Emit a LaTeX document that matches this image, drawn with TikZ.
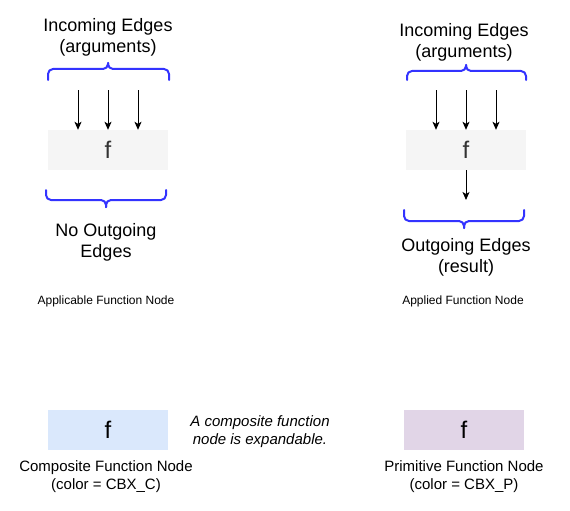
\documentclass[tikz,border=0pt]{standalone}
\usepackage{fontspec}
\setmainfont{Liberation Sans}
\usetikzlibrary{arrows.meta}
\definecolor{braceblue}{RGB}{51,51,255}
\definecolor{boxgray}{HTML}{F5F5F5}
\definecolor{boxblue}{HTML}{DAE8FC}
\definecolor{boxpurple}{HTML}{E1D5E7}
\definecolor{ftext}{HTML}{333333}
\begin{document}
\begin{tikzpicture}[x=1pt,y=-1pt,
  fbox/.style={minimum width=120pt,minimum height=40pt,inner sep=0pt,font=\fontsize{24}{28}\selectfont},
  bigtext/.style={align=center,font=\fontsize{18}{21}\selectfont,inner sep=0pt},
  midtext/.style={align=center,font=\fontsize{15}{18}\selectfont,inner sep=0pt},
  smalltext/.style={font=\fontsize{12}{14}\selectfont,inner sep=0pt},
  edge/.style={line width=1pt,-{Stealth[length=8pt,width=7pt,inset=2pt]}},
  curly/.style={draw=braceblue,line width=2pt,line cap=round,line join=round,rounded corners=5pt},
]
\useasboundingbox (0,0) rectangle (570,511);

% ---------- left: applicable function node ----------
\node[bigtext] (inL) at (108,37.5) {Incoming Edges\\(arguments)};
\draw[curly] (48,80) -- (48,69) -- (108,69) -- (108,63);
\draw[curly] (108,63) -- (108,69) -- (169,69) -- (169,80);
\node[fbox,fill=boxgray,text=ftext] (boxL) at (108,150) {f};
\coordinate (l1) at (78,90);
\coordinate (l2) at (108,90);
\coordinate (l3) at (138,90);
\draw[edge] (l1) -- (l1 |- boxL.north);
\draw[edge] (l2) -- (l2 |- boxL.north);
\draw[edge] (l3) -- (l3 |- boxL.north);
\draw[curly] (46,190) -- (46,200) -- (106,200) -- (106,207);
\draw[curly] (106,207) -- (106,200) -- (166,200) -- (166,190);
\node[bigtext] (noOut) at (106,242) {No Outgoing\\Edges};
\node[smalltext] (applicable) at (106,301) {Applicable Function Node};

% ---------- right: applied function node ----------
\node[bigtext] (inR) at (464,42.5) {Incoming Edges\\(arguments)};
\draw[curly] (407,80) -- (407,71) -- (466,71) -- (466,65);
\draw[curly] (466,65) -- (466,71) -- (526,71) -- (526,80);
\node[fbox,fill=boxgray,text=ftext] (boxR) at (466,150) {f};
\coordinate (r1) at (436,90);
\coordinate (r2) at (466,90);
\coordinate (r3) at (496,90);
\draw[edge] (r1) -- (r1 |- boxR.north);
\draw[edge] (r2) -- (r2 |- boxR.north);
\draw[edge] (r3) -- (r3 |- boxR.north);
\coordinate (rout) at (466,200);
\draw[edge] (boxR.south) -- (rout);
\draw[curly] (404,210) -- (404,221) -- (464,221) -- (464,228);
\draw[curly] (464,228) -- (464,221) -- (524,221) -- (524,210);
\node[bigtext] (outR) at (466,257.5) {Outgoing Edges\\(result)};
\node[smalltext] (applied) at (463,301) {Applied Function Node};

% ---------- bottom: node colours ----------
\node[fbox,fill=boxblue,text=black] (compBox) at (108,430) {f};
\node[midtext] (compLbl) at (106,477) {Composite Function Node\\(color = CBX\_C)};
\node[midtext,font=\fontsize{15}{18}\selectfont\itshape] (note) at (260,432) {A composite function\\node is expandable.};
\node[fbox,fill=boxpurple,text=black] (primBox) at (464,430) {f};
\node[midtext] (primLbl) at (464,477) {Primitive Function Node\\(color = CBX\_P)};
\end{tikzpicture}
\end{document}
